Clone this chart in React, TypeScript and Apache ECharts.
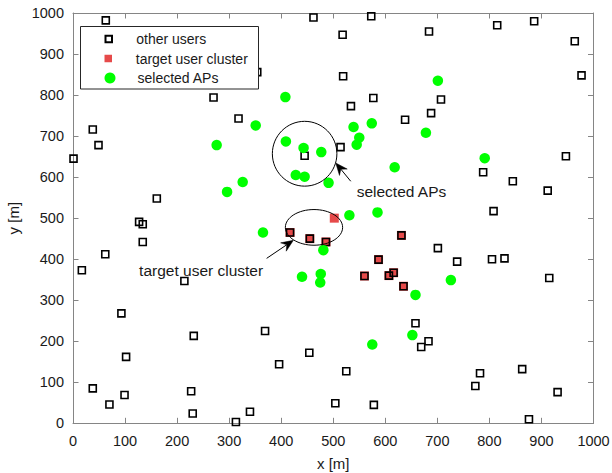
import React, { useEffect, useRef } from 'react';
import * as echarts from 'echarts';

// ---- data (metres) ----
const otherUsersX = [63, 462, 354, 270, 318, 38, 49, 1, 445, 161,
  573, 518, 684, 815, 886, 964, 977, 519, 577, 707, 534, 688, 638, 514, 947, 788, 845, 912, 808,
  127, 134, 134, 62, 17, 214, 93, 232, 102, 369, 454, 396, 38, 70, 99, 227, 230, 313, 340,
  701, 738, 805, 829, 915, 658, 683, 669, 525, 782, 863, 773, 931, 504, 578, 876,
  417, 455, 486, 631, 587, 560, 607, 616, 635];
const otherUsersY = [982, 989, 856, 794, 743, 716, 678, 645, 652, 548,
  992, 947, 955, 970, 980, 931, 848, 846, 793, 789, 773, 756, 740, 673, 651, 612, 590, 567, 517,
  491, 485, 442, 412, 373, 347, 268, 213, 162, 225, 172, 144, 85, 46, 69, 78, 24, 3, 28,
  427, 394, 400, 402, 354, 244, 200, 186, 127, 122, 132, 91, 76, 49, 45, 10,
  465, 450, 442, 458, 399, 359, 360, 367, 334];

const targetX = [417, 455, 486, 502, 631, 587, 560, 607, 616, 635];
const targetY = [465, 450, 442, 500, 458, 399, 359, 360, 367, 334];

const apX = [408, 351, 276, 409, 443, 477, 428, 445, 326, 296, 491, 701, 539, 574, 678, 550, 545, 618, 791,
  531, 585, 365, 481, 440, 476, 475, 658, 726, 652, 575];
const apY = [795, 726, 678, 687, 671, 661, 605, 601, 588, 564, 586, 835, 722, 731, 708, 696, 679, 624, 646,
  507, 514, 465, 422, 357, 364, 343, 313, 349, 215, 192];

const seriesNames = ['other users', 'target user cluster', 'selected APs'];

// annotations in data units
const ellipseCx = [445, 463];
const ellipseCy = [657, 477.5];
const ellipseRx = [62, 55];
const ellipseRy = [79, 43.5];

const arrowTail = [[533.6, 589.9], [372, 402]];
const arrowTip = [[504.8, 634.5], [423.4, 446]];
const noteTexts = ['selected APs', 'target user cluster'];
const notePos = [[545, 564], [127, 373]];

const FONT = 'Liberation Sans, Arial, Helvetica, sans-serif';
const AXIS_GRAY = '#858585';
const TEXT = '#1a1a1a';

export default function App() {
  const ref = useRef<HTMLDivElement>(null);

  useEffect(() => {
    const chart = echarts.init(ref.current!, null, { renderer: 'svg' });

    const baseAxis = {
      type: 'value' as const,
      min: 0,
      max: 1000,
      interval: 100,
      axisLine: { show: true, onZero: false, lineStyle: { color: AXIS_GRAY, width: 1 } },
      axisTick: { show: true, inside: true, length: 5.5, lineStyle: { color: AXIS_GRAY, width: 1 } },
      splitLine: { show: false },
    };

    const legendCommon = {
      orient: 'vertical' as const,
      left: 104.5,
      padding: 0,
      itemGap: 0,
      itemWidth: 45,
      selectedMode: false,
      symbolKeepAspect: true,
      z: 20,
      textStyle: { fontSize: 14, fontFamily: FONT, color: TEXT },
    };

    chart.setOption({
      animation: false,
      backgroundColor: '#ffffff',
      grid: {
        left: 73,
        right: 18.5,
        top: 13,
        bottom: 49.7,
        containLabel: false,
        outerBoundsMode: 'none',
      },
      xAxis: [
        {
          ...baseAxis,
          position: 'bottom',
          name: 'x [m]',
          nameLocation: 'middle',
          nameGap: 33,
          nameTextStyle: { fontSize: 15, fontFamily: FONT, color: TEXT },
          axisLabel: {
            fontSize: 14.5,
            fontFamily: FONT,
            color: TEXT,
            margin: 10,
            formatter: (v: number) => String(v),
          },
        },
        { ...baseAxis, position: 'top', axisLabel: { show: false } },
      ],
      yAxis: [
        {
          ...baseAxis,
          position: 'left',
          name: 'y [m]',
          nameLocation: 'middle',
          nameGap: 50,
          nameTextStyle: { fontSize: 15, fontFamily: FONT, color: TEXT },
          axisLabel: {
            fontSize: 14.5,
            fontFamily: FONT,
            color: TEXT,
            margin: 9,
            formatter: (v: number) => String(v),
          },
        },
        { ...baseAxis, position: 'right', axisLabel: { show: false } },
      ],
      legend: [
        { ...legendCommon, top: 32, itemHeight: 6.5, data: [{ name: seriesNames[0], icon: 'path://M0 0H6.5V6.5H0Z' }] },
        { ...legendCommon, top: 51.5, itemHeight: 7.5, data: [{ name: seriesNames[1], icon: 'path://M0 0H7.5V7.5H0Z' }] },
        { ...legendCommon, top: 71, itemHeight: 11, data: [{ name: seriesNames[2], icon: 'circle' }] },
      ],
      series: [
        {
          name: seriesNames[1],
          type: 'scatter',
          xAxisIndex: 0,
          yAxisIndex: 0,
          symbol: 'rect',
          symbolSize: 9,
          clip: false,
          itemStyle: { color: '#e64a4a', borderWidth: 0, opacity: 1 },
          data: targetX.map((x, i) => [x, targetY[i]]),
          z: 2,
        },
        {
          name: seriesNames[0],
          type: 'scatter',
          xAxisIndex: 0,
          yAxisIndex: 0,
          symbol: 'rect',
          symbolSize: 7,
          clip: false,
          itemStyle: { color: 'rgba(0,0,0,0)', borderColor: '#000000', borderWidth: 1.6, opacity: 1 },
          data: otherUsersX.map((x, i) => [x, otherUsersY[i]]),
          z: 3,
        },
        {
          name: seriesNames[2],
          type: 'scatter',
          xAxisIndex: 0,
          yAxisIndex: 0,
          symbol: 'circle',
          symbolSize: 10.5,
          clip: false,
          itemStyle: { color: '#00ff00', borderWidth: 0, opacity: 1 },
          data: apX.map((x, i) => [x, apY[i]]),
          z: 4,
        },
      ],
    });

    const toPx = (p: number[]) => chart.convertToPixel({ xAxisIndex: 0, yAxisIndex: 0 }, p) as number[];

    const graphics: any[] = [];
    // legend frame
    graphics.push({
      type: 'rect',
      shape: { x: 80.5, y: 26.5, width: 178, height: 62.5 },
      style: { fill: '#ffffff', stroke: '#262626', lineWidth: 1 },
      z: 5,
      silent: true,
    });

    ellipseCx.forEach((cx, i) => {
      const c = toPx([cx, ellipseCy[i]]);
      const ex = toPx([cx + ellipseRx[i], ellipseCy[i]]);
      const ey = toPx([cx, ellipseCy[i] + ellipseRy[i]]);
      graphics.push({
        type: 'ellipse',
        shape: { cx: c[0], cy: c[1], rx: Math.abs(ex[0] - c[0]), ry: Math.abs(c[1] - ey[1]) },
        style: { fill: 'none', stroke: '#000000', lineWidth: 1 },
        z: 10,
        silent: true,
      });
    });

    arrowTip.forEach((tipD, i) => {
      const t = toPx(tipD);
      const s = toPx(arrowTail[i]);
      const dx = t[0] - s[0];
      const dy = t[1] - s[1];
      const len = Math.hypot(dx, dy);
      const ux = dx / len;
      const uy = dy / len;
      const nx = -uy;
      const ny = ux;
      const L = 12;
      const W = 5;
      const D = 4;
      const base = [t[0] - (L - D) * ux, t[1] - (L - D) * uy];
      graphics.push({
        type: 'line',
        shape: { x1: s[0], y1: s[1], x2: base[0], y2: base[1] },
        style: { stroke: '#000000', lineWidth: 1 },
        z: 11,
        silent: true,
      });
      graphics.push({
        type: 'polygon',
        shape: {
          points: [
            [t[0], t[1]],
            [t[0] - L * ux + W * nx, t[1] - L * uy + W * ny],
            base,
            [t[0] - L * ux - W * nx, t[1] - L * uy - W * ny],
          ],
        },
        style: { fill: '#000000', stroke: '#000000', lineWidth: 0.5 },
        z: 11,
        silent: true,
      });
    });

    noteTexts.forEach((txt, i) => {
      const p = toPx(notePos[i]);
      graphics.push({
        type: 'text',
        x: p[0],
        y: p[1],
        style: {
          text: txt,
          fontSize: 15.5,
          fontFamily: FONT,
          fill: TEXT,
          align: 'left',
          verticalAlign: 'middle',
        },
        z: 11,
        silent: true,
      });
    });

    chart.setOption({ graphic: graphics });

    return () => {
      chart.dispose();
    };
  }, []);

  return (
    <div
      ref={ref}
      style={{ position: 'fixed', left: 0, top: 0, width: 612, height: 473, background: '#fff' }}
    />
  );
}
